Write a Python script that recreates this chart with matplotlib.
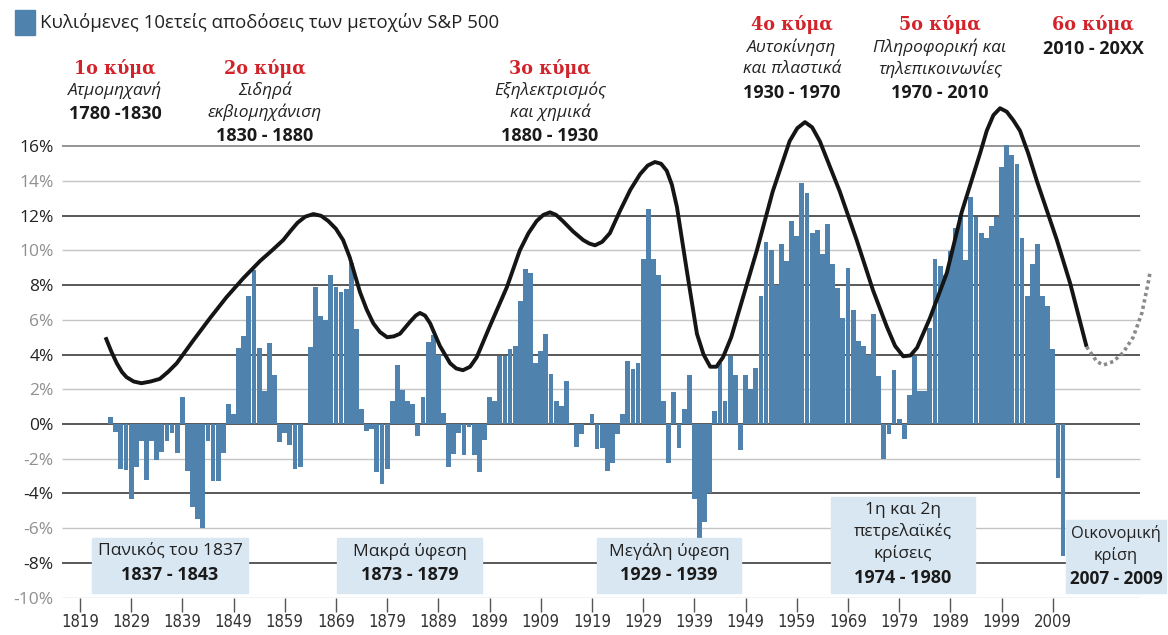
import numpy as np
import matplotlib
matplotlib.use("Agg")
import matplotlib.pyplot as plt
from matplotlib.patches import Rectangle

W, H = 1168, 635

# rolling 10-year returns of S&P 500 stocks (%), one bar per year starting 1825
START_YEAR = 1825
returns = [
    0.4, -0.45, -2.6, -2.65, -4.35, -2.5, -1.0, -3.2, -1.0, -2.1,      # 1825-1834
    -1.6, -1.0, -0.5, -1.7, 1.55, -2.7, -4.8, -5.5, -6.0, -1.0,        # 1835-1844
    -3.3, -3.3, -1.7, 1.15, 0.55, 4.4, 5.1, 7.4, 8.9, 4.4,             # 1845-1854
    1.9, 4.65, 2.8, -1.05, -0.5, -1.2, -2.6, -2.45, 0.0, 4.45,         # 1855-1864
    7.9, 6.2, 6.0, 8.6, 7.9, 7.6, 7.8, 9.3, 5.5, 0.85,                 # 1865-1874
    -0.4, -0.3, -2.75, -3.45, -2.6, 1.35, 3.4, 1.95, 1.35, 1.15,       # 1875-1884
    -0.7, 1.55, 4.7, 5.15, 4.0, 0.65, -2.45, -1.75, -0.5, -1.8,        # 1885-1894
    -0.2, -1.8, -2.75, -0.95, 1.55, 1.3, 3.9, 3.9, 4.3, 4.5,           # 1895-1904
    7.1, 8.95, 8.7, 3.5, 4.2, 5.2, 2.9, 1.3, 1.05, 2.5,                # 1905-1914
    0.0, -1.3, -0.6, 0.0, 0.55, -1.45, -1.4, -2.7, -2.25, -0.55,       # 1915-1924
    0.55, 3.65, 3.15, 3.5, 9.5, 12.4, 9.5, 8.6, 1.3, -2.25,            # 1925-1934
    1.85, -1.4, 0.85, 2.8, -4.3, -6.55, -5.65, -4.0, 0.75, 3.5,        # 1935-1944
    1.3, 3.9, 2.8, -1.5, 2.8, 2.0, 3.25, 7.4, 10.5, 10.0,              # 1945-1954
    8.0, 10.35, 9.4, 11.7, 10.85, 13.9, 13.3, 11.0, 11.2, 9.8,         # 1955-1964
    11.55, 9.25, 7.85, 6.1, 9.0, 6.55, 4.8, 4.5, 4.0, 6.35,            # 1965-1974
    2.75, -2.0, -0.6, 3.1, 0.3, -0.85, 1.65, 3.9, 1.9, 1.9,            # 1975-1984
    5.55, 9.5, 9.1, 8.6, 9.95, 11.3, 12.0, 9.45, 13.1, 11.95,          # 1985-1994
    11.0, 10.7, 11.4, 11.95, 14.8, 16.1, 15.5, 15.0, 10.7, 7.4,        # 1995-2004
    9.2, 10.35, 7.4, 6.8, 4.3, -3.1, -7.6,                             # 2005-2011
]
years = np.arange(START_YEAR, START_YEAR + len(returns))

# long-wave curve drawn over the bars
wave_years = [1824.0, 1825.1, 1826.2, 1827.2, 1828.1, 1829.5, 1831.0, 1832.8, 1834.6,
              1836.2, 1837.9, 1841.1, 1844.4, 1847.6, 1850.9, 1854.2, 1856.5, 1858.7,
              1860.2, 1861.5, 1863.0, 1864.6, 1866.1, 1867.5, 1869.0, 1870.4, 1871.7,
              1873.7, 1875.0, 1876.3, 1877.6, 1879.0, 1880.3, 1881.5, 1883.5, 1884.6,
              1885.4, 1886.4, 1887.4, 1889.3, 1891.3, 1892.5, 1893.8, 1895.2, 1896.5,
              1899.0, 1902.4, 1904.9, 1906.6, 1908.2, 1909.5, 1910.8, 1912.0, 1913.3,
              1915.3, 1917.3, 1918.5, 1919.6, 1921.0, 1922.5, 1924.5, 1926.5, 1928.4,
              1929.9, 1931.3, 1932.5, 1933.6, 1934.6, 1935.6, 1937.6, 1939.5, 1940.8,
              1942.1, 1943.3, 1944.6, 1946.2, 1947.9, 1951.2, 1954.3, 1957.6, 1959.1,
              1960.6, 1962.0, 1963.5, 1967.4, 1970.7, 1973.9, 1976.6, 1978.2, 1979.8,
              1981.2, 1982.5, 1985.0, 1988.3, 1991.2, 1994.8, 1996.1, 1997.4, 1998.7,
              2000.0, 2001.3, 2002.6, 2004.2, 2005.9, 2009.8, 2012.4, 2015.6]
wave_vals = [5.0, 4.2, 3.5, 3.0, 2.7, 2.45, 2.35, 2.45, 2.6,
             3.0, 3.5, 4.8, 6.1, 7.3, 8.4, 9.4, 10.0, 10.6,
             11.15, 11.6, 11.95, 12.1, 12.0, 11.7, 11.25, 10.6, 9.6,
             7.6, 6.6, 5.8, 5.3, 5.0, 5.05, 5.2, 5.9, 6.25,
             6.4, 6.25, 5.8, 4.5, 3.5, 3.2, 3.1, 3.3, 3.85,
             5.6, 7.9, 10.0, 11.0, 11.7, 12.05, 12.2, 12.05, 11.7,
             11.1, 10.6, 10.4, 10.3, 10.5, 11.0, 12.3, 13.5, 14.4,
             14.9, 15.1, 15.0, 14.6, 13.8, 12.5, 8.7, 5.2, 4.0,
             3.3, 3.3, 3.85, 5.0, 6.7, 10.0, 13.4, 16.3, 17.05,
             17.4, 17.1, 16.3, 13.4, 10.6, 7.7, 5.6, 4.5, 3.9,
             3.95, 4.4, 6.1, 8.7, 12.2, 15.6, 16.9, 17.8, 18.2,
             18.0, 17.5, 16.9, 15.6, 14.0, 10.6, 8.1, 4.45]
# projected 6th wave (dotted)
proj_years = [2015.6, 2017.6, 2018.9, 2020.8, 2022.7, 2024.7, 2026.4, 2027.6, 2028.0]
proj_vals = [4.45, 3.6, 3.4, 3.6, 4.1, 5.0, 6.4, 8.1, 8.75]

yticks = list(range(16, -11, -2))
xticks = list(range(1819, 2010, 10))

BLUE = "#4f82ac"
RED = "#d2232a"
BOX = "#d9e7f2"
SANS = ["Open Sans", "DejaVu Sans"]

plt.rcParams["font.family"] = SANS

fig = plt.figure(figsize=(W / 100, H / 100), dpi=100)
# axes placed so that 0% sits at y=424 px and each % is 17.35 px
x0_year, x1_year = 1815.5, 2031.5
ax = fig.add_axes([62 / W, (H - 597.5) / H, (W - 62) / W, 29 * 17.35 / H])
ax.set_xlim(x0_year, x1_year)
ax.set_ylim(-10, 19)
for s in ax.spines.values():
    s.set_visible(False)

# horizontal grid, darker every 4%
for v in yticks:
    if v == 16:
        c, lw = "#8c8c8c", 1.3
    elif v % 4 == 0:
        c, lw = "#3c3c3c", 1.2
    else:
        c, lw = "#c4c4c4", 1.0
    ax.hlines(v, x0_year, 2026.0, color=c, lw=lw, zorder=1)

ax.bar(years, returns, width=0.94, color=BLUE, linewidth=0, zorder=2)

ax.plot(wave_years, wave_vals, color="#151515", lw=2.8, solid_capstyle="butt",
        solid_joinstyle="round", zorder=4, clip_on=False)
ax.plot(proj_years, proj_vals, color="#8a8a8a", lw=2.6, linestyle=(0, (0.9, 0.9)),
        zorder=4, clip_on=False)

ax.set_yticks(yticks)
ax.set_yticklabels([f"{v}%" for v in yticks])
ax.tick_params(axis="y", length=0, pad=6, labelsize=12.5)
for lab, v in zip(ax.get_yticklabels(), yticks):
    lab.set_color("#222222" if v % 4 == 0 else "#8f8f8f")

ax.set_xticks(xticks)
ax.set_xticklabels([str(y) for y in xticks])
ax.tick_params(axis="x", length=10, width=1, color="#555555", direction="out",
               pad=1.5, labelsize=12, labelcolor="#333333")
for lab in ax.get_xticklabels():
    lab.set_fontstretch("condensed")
    lab.set_family(["DejaVu Sans"])


def fx(x):
    return x / W


def fy(y):
    return 1 - y / H


# header legend
fig.add_artist(Rectangle((fx(15), fy(35)), 20 / W, 25 / H, color=BLUE,
                         transform=fig.transFigure))
fig.text(fx(40), fy(22), "Κυλιόμενες 10ετείς αποδόσεις των μετοχών S&P 500",
         fontsize=13.4, color="#222222", va="center", ha="left")

# the six waves
waves = [
    (115, 68, "1ο κύμα", ["Ατμομηχανή"], "1780 -1830"),
    (265, 68, "2ο κύμα", ["Σιδηρά", "εκβιομηχάνιση"], "1830 - 1880"),
    (550, 68, "3ο κύμα", ["Εξηλεκτρισμός", "και χημικά"], "1880 - 1930"),
    (792, 25, "4ο κύμα", ["Αυτοκίνηση", "και πλαστικά"], "1930 - 1970"),
    (940, 25, "5ο κύμα", ["Πληροφορική και", "τηλεπικοινωνίες"], "1970 - 2010"),
    (1093, 25, "6ο κύμα", [], "2010 - 20XX"),
]
for cx, ty, title, lines, period in waves:
    fig.text(fx(cx), fy(ty), title, color=RED, fontsize=14, fontweight="bold",
             family=["DejaVu Serif"], fontstretch="condensed", ha="center", va="center")
    y = ty + 22
    for ln in lines:
        fig.text(fx(cx), fy(y), ln, fontsize=12.5, style="italic", color="#222222",
                 ha="center", va="center")
        y += 22
    fig.text(fx(cx), fy(y + 2), period, fontsize=13, fontweight="bold", color="#1a1a1a",
             ha="center", va="center")

# crisis boxes (x0, x1, y0 in px, font size) with text lines
crises = [
    (92, 248, 538, 12.5, ["Πανικός του 1837"], "1837 - 1843"),
    (337, 482, 538, 12.5, ["Μακρά ύφεση"], "1873 - 1879"),
    (597, 741, 538, 12.5, ["Μεγάλη ύφεση"], "1929 - 1939"),
    (831, 975, 497, 12.5, ["1η και 2η", "πετρελαϊκές", "κρίσεις"], "1974 - 1980"),
    (1066, 1166, 520, 11.8, ["Οικονομική", "κρίση"], "2007 - 2009"),
]
for x0, x1, y0, fs, lines, period in crises:
    y1 = 593
    fig.add_artist(Rectangle((fx(x0), fy(y1)), (x1 - x0) / W, (y1 - y0) / H,
                             color=BOX, transform=fig.transFigure, zorder=3))
    cx = (x0 + x1) / 2
    y = y0 + 13
    for ln in lines:
        fig.text(fx(cx), fy(y), ln, fontsize=fs, color="#222222", ha="center",
                 va="center", zorder=4)
        y += 22
    fig.text(fx(cx), fy(y + 2), period, fontsize=fs + 0.5, fontweight="bold",
             color="#1a1a1a", ha="center", va="center", zorder=4)

fig.savefig("out.png", dpi=100)
